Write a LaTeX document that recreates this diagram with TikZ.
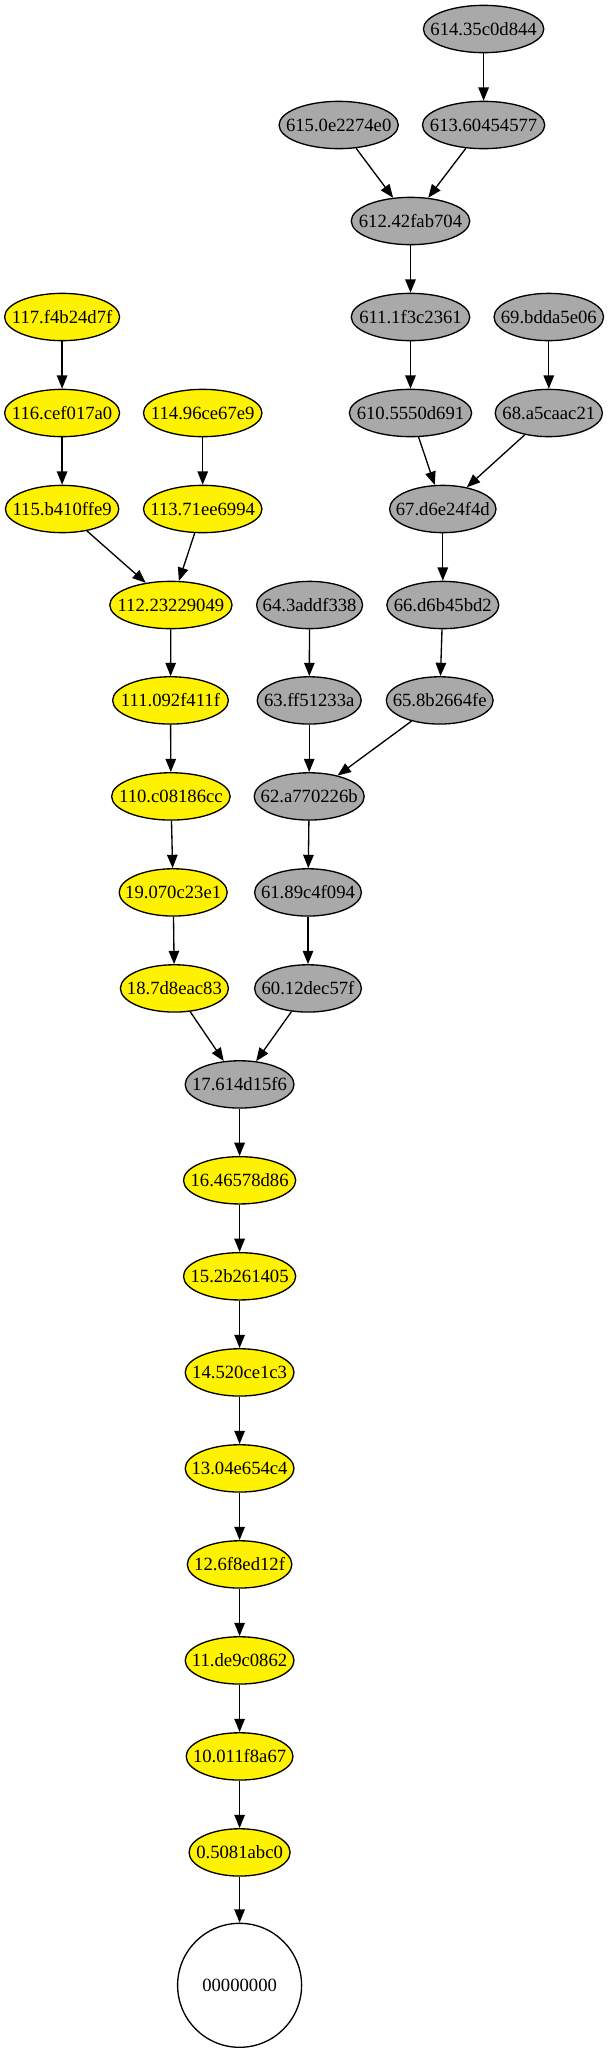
\documentclass[tikz,border=0pt]{standalone}
\usepackage{fontspec}
\setmainfont{Liberation Serif}
\usetikzlibrary{shapes.geometric,arrows.meta}
\definecolor{nodegray}{HTML}{A9A9A9}
\tikzset{
  gv/.style={ellipse, draw=black, line width=1.33pt, inner sep=0pt,
    text height=12.6pt, text depth=0pt,
    font=\fontsize{18.67}{22}\selectfont, minimum height=47.3pt},
  yel/.style={gv, fill=yellow},
  gry/.style={gv, fill=nodegray},
  conn/.style={-{Triangle[length=13.3pt,width=10.5pt]}, line width=1.33pt}
}
\newcommand{\lbl}[1]{\makebox[0pt]{#1}}
\begin{document}
\begin{tikzpicture}[x=1pt,y=-1pt]
\useasboundingbox (0,0) rectangle (609,2054);
% gray branch
\node[gry, minimum width=120.4pt] (n614) at (483.6,29) {\lbl{614.35c0d844}};
\node[gry, minimum width=119.2pt] (n615) at (338.7,125) {\lbl{615.0e2274e0}};
\node[gry, minimum width=122.3pt] (n613) at (483.6,125) {\lbl{613.60454577}};
\node[gry, minimum width=118.5pt] (n612) at (410.5,221) {\lbl{612.42fab704}};
\node[gry, minimum width=118.5pt] (n611) at (410.5,317) {\lbl{611.1f3c2361}};
\node[gry, minimum width=109.5pt] (n69) at (548.8,317) {\lbl{69.bdda5e06}};
\node[gry, minimum width=122.3pt] (n610) at (410.5,413) {\lbl{610.5550d691}};
\node[gry, minimum width=107.2pt] (n68) at (548.8,413) {\lbl{68.a5caac21}};
\node[gry, minimum width=106.4pt] (n67) at (442.8,509) {\lbl{67.d6e24f4d}};
\node[gry, minimum width=111.9pt] (n66) at (442.8,605) {\lbl{66.d6b45bd2}};
\node[gry, minimum width=106pt] (n64) at (309.6,605) {\lbl{64.3addf338}};
\node[gry, minimum width=104pt] (n63) at (309.2,700.4) {\lbl{63.ff51233a}};
\node[gry, minimum width=106.8pt] (n65) at (439.7,700.4) {\lbl{65.8b2664fe}};
\node[gry, minimum width=110pt] (n62) at (309.2,796.4) {\lbl{62.a770226b}};
\node[gry, minimum width=106.8pt] (n61) at (308,892.4) {\lbl{61.89c4f094}};
\node[gry, minimum width=106.8pt] (n60) at (308,988.4) {\lbl{60.12dec57f}};
% yellow branch
\node[yel, minimum width=115pt] (n117) at (62.1,317) {\lbl{117.f4b24d7f}};
\node[yel, minimum width=115pt] (n116) at (62.1,413) {\lbl{116.cef017a0}};
\node[yel, minimum width=118.5pt] (n114) at (202.7,413) {\lbl{114.96ce67e9}};
\node[yel, minimum width=113.4pt] (n115) at (62.1,509) {\lbl{115.b410ffe9}};
\node[yel, minimum width=118.5pt] (n113) at (202.7,509) {\lbl{113.71ee6994}};
\node[yel, minimum width=122.3pt] (n112) at (170.9,605) {\lbl{112.23229049}};
\node[yel, minimum width=115.7pt] (n111) at (170.5,700.4) {\lbl{111.092f411f}};
\node[yel, minimum width=118.5pt] (n110) at (170.9,796.4) {\lbl{110.c08186cc}};
\node[yel, minimum width=108pt] (n19) at (173.2,892.4) {\lbl{19.070c23e1}};
\node[yel, minimum width=108pt] (n18) at (174.4,988.4) {\lbl{18.7d8eac83}};
% trunk
\node[gry, minimum width=108.8pt] (n17) at (239.6,1084.4) {\lbl{17.614d15f6}};
\node[yel, minimum width=112.2pt] (n16) at (239.6,1180.3) {\lbl{16.46578d86}};
\node[yel, minimum width=112.2pt] (n15) at (239.6,1276.3) {\lbl{15.2b261405}};
\node[yel, minimum width=108.8pt] (n14) at (239.6,1372.4) {\lbl{14.520ce1c3}};
\node[yel, minimum width=108.8pt] (n13) at (239.6,1468.4) {\lbl{13.04e654c4}};
\node[yel, minimum width=104.5pt] (n12) at (239.6,1564.4) {\lbl{12.6f8ed12f}};
\node[yel, minimum width=108.8pt] (n11) at (239.6,1660.4) {\lbl{11.de9c0862}};
\node[yel, minimum width=106.8pt] (n10) at (239.6,1756.4) {\lbl{10.011f8a67}};
\node[yel, minimum width=101pt] (n0) at (239.6,1852.4) {\lbl{0.5081abc0}};
\node[circle, draw=black, line width=1.33pt, inner sep=0pt, minimum size=124pt,
  font=\fontsize{18.67}{22}\selectfont] (root) at (239.6,1985.3) {00000000};
% edges
\draw[conn] (n614) -- (n613);
\draw[conn] (n615) -- (n612);
\draw[conn] (n613) -- (n612);
\draw[conn] (n612) -- (n611);
\draw[conn] (n611) -- (n610);
\draw[conn] (n69) -- (n68);
\draw[conn] (n610) -- (n67);
\draw[conn] (n68) -- (n67);
\draw[conn] (n67) -- (n66);
\draw[conn] (n66) -- (n65);
\draw[conn] (n64) -- (n63);
\draw[conn] (n63) -- (n62);
\draw[conn] (n65) -- (n62);
\draw[conn] (n62) -- (n61);
\draw[conn] (n61) -- (n60);
\draw[conn] (n117) -- (n116);
\draw[conn] (n116) -- (n115);
\draw[conn] (n114) -- (n113);
\draw[conn] (n115) -- (n112);
\draw[conn] (n113) -- (n112);
\draw[conn] (n112) -- (n111);
\draw[conn] (n111) -- (n110);
\draw[conn] (n110) -- (n19);
\draw[conn] (n19) -- (n18);
\draw[conn] (n18) -- (n17);
\draw[conn] (n60) -- (n17);
\draw[conn] (n17) -- (n16);
\draw[conn] (n16) -- (n15);
\draw[conn] (n15) -- (n14);
\draw[conn] (n14) -- (n13);
\draw[conn] (n13) -- (n12);
\draw[conn] (n12) -- (n11);
\draw[conn] (n11) -- (n10);
\draw[conn] (n10) -- (n0);
\draw[conn] (n0) -- (root);
\end{tikzpicture}
\end{document}
